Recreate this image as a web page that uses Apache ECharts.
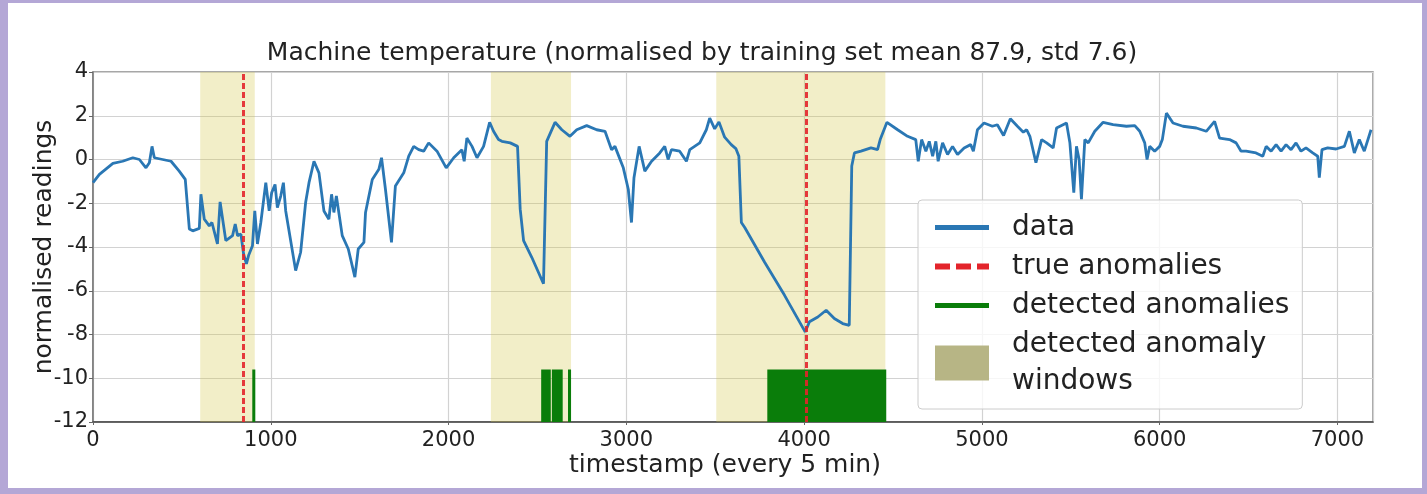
<!DOCTYPE html>
<html><head><meta charset="utf-8">
<script src="https://cdn.jsdelivr.net/npm/echarts@6/dist/echarts.min.js"></script>
<style>
html,body{margin:0;padding:0;width:1427px;height:494px;background:#b4a7d6;overflow:hidden}
#chart{position:absolute;left:8px;top:3px;width:1414px;height:485px;background:#fff}
</style></head><body><div id="chart"></div>
<script>
// ---- data ----
const timestamps = [0,36,112,167,224,261,298,317,332,345,392,439,485,519,542,561,598,607,626,654,669,700,715,747,785,800,813,832,847,863,875,897,910,925,944,972,991,1005,1024,1037,1056,1071,1084,1140,1168,1196,1215,1243,1271,1299,1327,1342,1355,1369,1402,1436,1473,1492,1524,1533,1571,1608,1623,1645,1679,1701,1748,1776,1804,1832,1860,1888,1935,1987,2029,2075,2088,2103,2132,2160,2197,2231,2253,2281,2300,2347,2388,2403,2422,2468,2534,2552,2599,2637,2683,2721,2777,2833,2880,2917,2936,2983,3011,3029,3043,3072,3104,3142,3188,3216,3235,3254,3300,3338,3357,3413,3450,3469,3497,3521,3553,3590,3616,3633,3647,3666,3778,3890,4006,4030,4077,4124,4170,4217,4254,4268,4283,4320,4376,4413,4428,4466,4526,4582,4628,4642,4661,4685,4704,4723,4741,4754,4779,4807,4835,4863,4900,4937,4952,4975,5012,5059,5087,5122,5160,5200,5233,5252,5270,5304,5336,5364,5401,5420,5476,5495,5517,5532,5547,5560,5579,5598,5635,5682,5738,5813,5860,5888,5916,5929,5944,5972,6000,6015,6038,6075,6131,6206,6262,6309,6337,6393,6430,6458,6486,6542,6580,6599,6627,6655,6683,6711,6739,6767,6795,6823,6861,6889,6898,6913,6945,6992,7039,7067,7095,7123,7151,7189];
const readings = [-1.06,-0.68,-0.18,-0.08,0.08,0,-0.38,-0.15,0.6,0.08,0,-0.08,-0.53,-0.91,-3.18,-3.26,-3.15,-1.59,-2.73,-3.03,-2.88,-3.86,-1.94,-3.71,-3.48,-2.95,-3.48,-3.41,-4.32,-4.77,-4.39,-3.94,-2.35,-3.86,-2.88,-1.06,-2.35,-1.52,-1.14,-2.2,-1.67,-1.06,-2.35,-5.08,-4.24,-1.97,-1.06,-0.08,-0.61,-2.35,-2.73,-1.59,-2.42,-1.67,-3.48,-4.09,-5.38,-4.09,-3.79,-2.42,-0.91,-0.45,0.08,-1.36,-3.79,-1.21,-0.61,0.15,0.6,0.45,0.38,0.76,0.38,-0.38,0.08,0.45,-0.08,0.98,0.6,0.08,0.6,1.7,1.29,0.91,0.83,0.76,0.6,-2.27,-3.71,-4.47,-5.68,0.83,1.7,1.36,1.06,1.36,1.55,1.36,1.29,0.45,0.6,-0.38,-1.36,-2.88,-0.83,0.6,-0.53,-0.08,0.3,0.6,0,0.45,0.38,-0.08,0.45,0.76,1.36,1.89,1.4,1.72,1.02,0.68,0.5,0.15,-2.88,-3.11,-4.7,-6.21,-7.88,-7.42,-7.2,-6.89,-7.27,-7.5,-7.58,-0.3,0.3,0.38,0.53,0.45,0.91,1.7,1.36,1.06,0.91,-0.08,0.91,0.38,0.83,0.15,0.83,-0.08,0.76,0.23,0.6,0.23,0.53,0.68,0.38,1.36,1.67,1.52,1.59,1.1,1.86,1.52,1.25,1.36,1.06,-0.15,0.91,0.76,0.53,1.44,1.67,0.76,-1.52,0.6,0,-1.82,0.91,0.76,1.29,1.7,1.59,1.52,1.55,1.29,0.76,0,0.6,0.38,0.6,0.91,2.12,1.67,1.52,1.44,1.29,1.74,0.98,0.91,0.76,0.38,0.38,0.3,0.15,0.6,0.38,0.68,0.38,0.68,0.45,0.76,0.38,0.53,0.3,0.15,-0.83,0.45,0.53,0.48,0.6,1.29,0.3,0.91,0.38,1.36];
const trueAnomalies = [846, 4011];
const detectedStart = [896, 2521, 2581, 2672, 3793];
const detectedEnd   = [913, 2575, 2642, 2689, 4462];
const detectedTop = -9.6;
const windowStart = [603, 2238, 3506];
const windowEnd   = [910, 2689, 4457];
const xMin = 0, xMax = 7200, xStep = 1000;
const yMin = -12, yMax = 4, yStep = 2;
const titleText = 'Machine temperature (normalised by training set mean 87.9, std 7.6)';
const xName = 'timestamp (every 5 min)';
const yName = 'normalised readings';
const names = ['data', 'true anomalies', 'detected anomalies', 'detected anomaly windows'];

// ---- colours ----
const BLUE = '#2a77b4', RED = '#e3242b', GREEN = '#0a7d0a', WIN = 'rgba(212,198,72,0.3)', WIN_LEG = '#b7b585';
const FONT = 'DejaVu Sans';

const lineData = timestamps.map((t, i) => [t, readings[i]]);
const detAreas = detectedStart.map((s, i) => [{xAxis: s, yAxis: yMin}, {xAxis: detectedEnd[i], yAxis: detectedTop}]);
const winAreas = windowStart.map((s, i) => [{xAxis: s}, {xAxis: windowEnd[i]}]);
const trueLines = trueAnomalies.map(x => ({xAxis: x}));

const chart = echarts.init(document.getElementById('chart'), null, {renderer: 'canvas'});
chart.setOption({
  animation: false,
  textStyle: {fontFamily: FONT},
  title: {
    text: titleText, left: 694, top: 35, textAlign: 'center', padding: 0,
    textStyle: {fontFamily: FONT, fontSize: 25, fontWeight: 'normal', color: '#222', lineHeight: 30}
  },
  grid: {left: 85, top: 69, width: 1280, height: 350, show: true, borderColor: '#8a8a8a', borderWidth: 1.5, containLabel: false},
  xAxis: {
    type: 'value', min: xMin, max: xMax, interval: xStep,
    name: xName, nameLocation: 'middle', nameGap: 31, nameMoveOverlap: false,
    nameTextStyle: {fontFamily: FONT, fontSize: 25, color: '#222', padding: [0, 16, 0, 0]},
    axisLine: {show: true, onZero: false, lineStyle: {color: '#444', width: 1.5}},
    axisTick: {show: true, length: 3, lineStyle: {color: '#666'}},
    axisLabel: {fontFamily: FONT, fontSize: 21, color: '#222', margin: 8, showMaxLabel: false, formatter: v => String(v)},
    splitLine: {show: true, lineStyle: {color: '#d2d2d2', width: 1.2}}
  },
  yAxis: {
    type: 'value', min: yMin, max: yMax, interval: yStep,
    name: yName, nameLocation: 'middle', nameGap: 36, nameMoveOverlap: false,
    nameTextStyle: {fontFamily: FONT, fontSize: 25, color: '#222'},
    axisLine: {show: true, onZero: false, lineStyle: {color: '#777', width: 1.5}},
    axisTick: {show: true, length: 4, lineStyle: {color: '#666'}},
    axisLabel: {fontFamily: FONT, fontSize: 21, color: '#222', margin: 5, formatter: v => String(v)},
    splitLine: {show: true, lineStyle: {color: '#d2d2d2', width: 1.2}}
  },
  legend: {
    orient: 'vertical', left: 910, top: 197,
    padding: [9, 13, 9, 14], itemGap: 2, itemWidth: 54, itemHeight: 35,
    backgroundColor: 'rgba(255,255,255,0.8)', borderColor: '#cccccc', borderWidth: 1, borderRadius: 4,
    selectedMode: false,
    textStyle: {fontFamily: FONT, fontSize: 28, color: '#222', lineHeight: 37, padding: [0, 0, 0, 18]},
    formatter: n => n === names[3] ? 'detected anomaly\nwindows' : n,
    data: [
      {name: names[0], itemStyle: {opacity: 0}, lineStyle: {color: BLUE, width: 5, type: 'solid'}},
      {name: names[1], itemStyle: {opacity: 0}, lineStyle: {color: RED, width: 6, type: [15, 6]}},
      {name: names[2], itemStyle: {opacity: 0}, lineStyle: {color: GREEN, width: 5, type: 'solid'}},
      {name: names[3], icon: 'rect', itemStyle: {color: WIN_LEG, opacity: 1}}
    ]
  },
  series: [
    {
      name: names[3], type: 'line', data: [], z: 1, symbol: 'none',
      itemStyle: {color: WIN_LEG}, lineStyle: {color: WIN_LEG},
      markArea: {silent: true, itemStyle: {color: WIN}, data: winAreas}
    },
    {
      name: names[2], type: 'line', data: [], z: 2, symbol: 'none',
      itemStyle: {color: GREEN}, lineStyle: {color: GREEN},
      markArea: {silent: true, itemStyle: {color: GREEN}, data: detAreas}
    },
    {
      name: names[0], type: 'line', data: lineData, z: 3, symbol: 'none', showSymbol: false,
      itemStyle: {color: BLUE}, lineStyle: {color: BLUE, width: 2.8}
    },
    {
      name: names[1], type: 'line', data: [], z: 4, symbol: 'none',
      itemStyle: {color: RED}, lineStyle: {color: RED, type: 'dashed'},
      markLine: {
        silent: true, symbol: 'none', label: {show: false},
        lineStyle: {color: RED, width: 3, type: [6, 3], opacity: 0.9},
        data: trueLines
      }
    }
  ]
});
</script></body></html>
